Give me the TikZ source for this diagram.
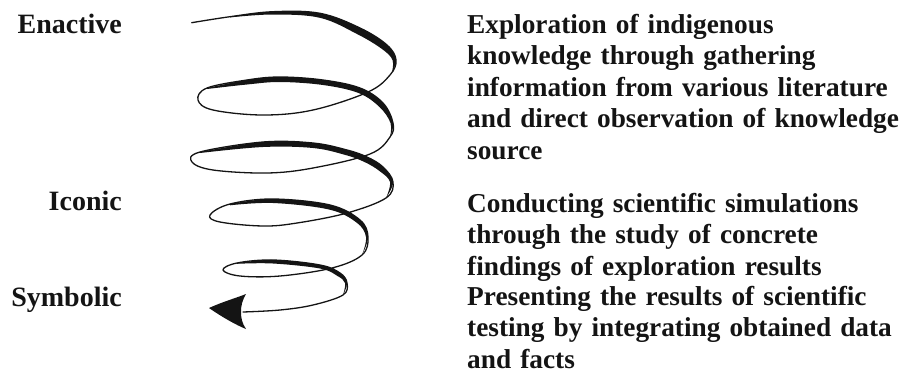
\documentclass[tikz,border=0pt]{standalone}
\usepackage{fontspec}
\setmainfont{Liberation Serif}
\definecolor{ink}{gray}{0.08}
\begin{document}
\begin{tikzpicture}[x=1pt,y=-1pt,
  lbl/.style={anchor=base east, inner sep=0pt, font=\fontsize{28}{31.6}\selectfont\bfseries, text=ink},
  desc/.style={anchor=base west, inner sep=0pt, font=\fontsize{27.3}{31.6}\selectfont\bfseries, text=ink, text width=438pt, align=left, execute at begin node={\hyphenpenalty=10000\exhyphenpenalty=10000}},
  spiral/.style={line width=1.3pt, line join=round, line cap=round, draw=ink},
  band/.style={fill=ink}]
\useasboundingbox (0,0) rectangle (907,378);

% labels
\node[lbl] (enactive) at (122,33) {Enactive};
\node[lbl] (iconic) at (122,210) {Iconic};
\node[lbl] (symbolic) at (122,306) {Symbolic};

\node[desc] (d1) at (467,33) {Exploration of indigenous\\knowledge through gathering\\information from various literature\\and direct observation of knowledge\\source};
\node[desc] (d2) at (467,212) {Conducting scientific simulations\\through the study of concrete\\findings of exploration results};
\node[desc] (d3) at (467,305) {Presenting the results of scientific\\testing by integrating obtained data\\and facts};

% spiral centre line
\draw[spiral] plot[smooth, tension=0.6] coordinates {
 (191.7,22.7) (230,16.7) (273,11.7) (320,13.3) (360,28) (387,45) (396,60)
 (390,75) (368,92) (313,110) (263,115) (213,110) (198,100)
 (207,88) (247,80) (280,77) (323,80) (360,88) (383,103) (393,123)
 (390,137) (370,154) (313,168) (267,173) (213,170) (192,162)
 (200,152) (263,142) (313,143) (347,150) (367,157) (383,167) (393,182)
 (386,198) (347,213) (297,223) (263,226) (220,222) (210,215)
 (230,204) (273,199) (330,205) (360,220) (368,237)
 (362,255) (332,268) (280,276) (240,276) (223,270)
 (237,263) (273,260) (320,265) (340,273) (347,283)
 (343,295) (313,305) (280,310) (243,312)};

% thick upper arcs
\fill[band] plot[smooth, tension=0.6] coordinates {(230,16.7) (273,11.7) (320,13.3) (360,28) (387,45) (396,60) (392,72)}
 -- plot[smooth, tension=0.6] coordinates {(392,72) (392.5,60) (382,49) (357,34) (320,17.8) (273,14.5) (230,17.4)} -- cycle;
\fill[band] plot[smooth, tension=0.6] coordinates {(207,88) (247,80) (280,77) (323,80) (360,88) (383,103) (393,123) (390,137)}
 -- plot[smooth, tension=0.6] coordinates {(390,137) (390.5,123) (379.5,107) (358.5,93) (323,85) (280,82) (247,84.5) (207,89)} -- cycle;
\fill[band] plot[smooth, tension=0.6] coordinates {(200,152) (263,142) (313,143) (347,150) (367,157) (383,167) (393,182) (386,198)}
 -- plot[smooth, tension=0.6] coordinates {(386,198) (390,182) (379.5,171) (364.5,162) (345.5,155) (313,148) (263,147) (200,153)} -- cycle;
\fill[band] plot[smooth, tension=0.6] coordinates {(230,204) (273,199) (330,205) (360,220) (368,237) (362,255)}
 -- plot[smooth, tension=0.6] coordinates {(362,255) (366,237) (356.5,222.5) (329,209.5) (273,203) (230,205.3)} -- cycle;
\fill[band] plot[smooth, tension=0.6] coordinates {(237,263) (273,260) (320,265) (340,273) (347,283) (343,295)}
 -- plot[smooth, tension=0.6] coordinates {(343,295) (345,283) (337.5,276) (320,268.5) (273,263.5) (237,263.8)} -- cycle;

% arrowhead
\fill[ink] (209,308) .. controls (222,302) and (236,298) .. (246,294)
 .. controls (242,301) and (241,306) .. (241,312)
 .. controls (241,318) and (242,323) .. (246,329)
 .. controls (236,325) and (222,317) .. (209,308) -- cycle;
\end{tikzpicture}
\end{document}
